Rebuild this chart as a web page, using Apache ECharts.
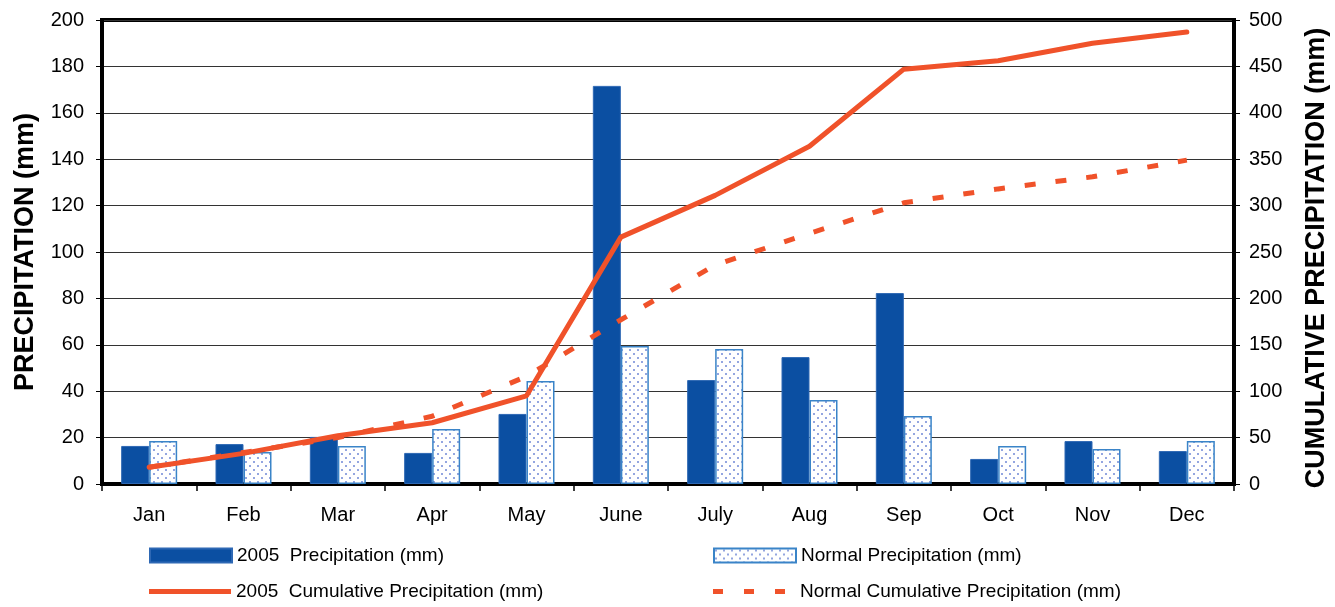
<!DOCTYPE html>
<html>
<head>
<meta charset="utf-8">
<script src="https://cdn.jsdelivr.net/npm/echarts@6/dist/echarts.min.js"></script>
<style>
html,body{margin:0;padding:0;background:#fff;}
#chart{width:1335px;height:607px;}
</style>
</head>
<body>
<div id="chart"></div>
<script>
var months = ['Jan','Feb','Mar','Apr','May','June','July','Aug','Sep','Oct','Nov','Dec'];
var precip2005 = [16.4, 17.2, 20.3, 13.4, 30.2, 171.6, 44.8, 54.7, 82.3, 10.8, 18.5, 14.2];
var precipNormal = [18.5, 13.8, 16.4, 23.7, 44.4, 59.5, 58.2, 36.2, 29.3, 16.4, 15.1, 18.5];
var cum2005 = [18, 33, 52, 66, 95, 266, 311, 364, 447, 456, 475, 487];
var cumNormal = [18, 34, 50, 73, 116, 177, 236, 270, 303, 318, 331, 349];
var leftTicks = {min: 0, max: 200, interval: 20};
var rightTicks = {min: 0, max: 500, interval: 50};

var FONT = '"Liberation Sans", Arial, sans-serif';

// dotted pattern
var pc = document.createElement('canvas');
pc.width = 8; pc.height = 8;
var g = pc.getContext('2d');
g.fillStyle = '#ffffff'; g.fillRect(0,0,8,8);
g.fillStyle = '#94a6e0';
g.fillRect(1,1,2,2);
g.fillRect(5,5,2,2);

var RED = '#f0522a';
var chart = echarts.init(document.getElementById('chart'), null, {renderer:'canvas'});
var legendBase = {orient:'horizontal', padding:0, itemWidth:82, itemHeight:15, itemGap:5,
  textStyle:{fontFamily:FONT, fontSize:19, color:'#000'}, selectedMode:false};
chart.setOption({
  animation:false,
  backgroundColor:'#fff',
  grid:{left:102, right:101, top:20, bottom:123, show:true, borderColor:'#000', borderWidth:4,
        backgroundColor:'transparent', containLabel:false, outerBoundsMode:'none'},
  legend:[
    Object.assign({}, legendBase, {left:149, top:546, icon:'rect', itemHeight:14,
      data:[{name:'2005  Precipitation (mm)', icon:'rect'}]}),
    Object.assign({}, legendBase, {left:713, top:546, icon:'rect', itemHeight:14,
      data:[{name:'Normal Precipitation (mm)', icon:'rect'}]}),
    Object.assign({}, legendBase, {left:149, top:582, itemHeight:5,
      data:[{name:'2005  Cumulative Precipitation (mm)', icon:'path://M0,0h82v5h-82z'}],
      textStyle:{fontFamily:FONT, fontSize:19, color:'#000', padding:[0,0,0,0]}}),
    Object.assign({}, legendBase, {left:713, top:582, itemHeight:5, itemWidth:72,
      data:[{name:'Normal Cumulative Precipitation (mm)', icon:'path://M0,0h10v5h-10z M31,0h10v5h-10z M62,0h10v5h-10z'}],
      textStyle:{fontFamily:FONT, fontSize:19, color:'#000', padding:[0,0,0,10]}})
  ],
  xAxis:{type:'category', data:months, boundaryGap:true,
    axisLine:{show:true, lineStyle:{color:'#000', width:4}},
    axisTick:{show:true, length:7, lineStyle:{color:'#000', width:1.5}},
    axisLabel:{fontFamily:FONT, fontSize:20, color:'#000', margin:21},
    splitLine:{show:false}},
  yAxis:[
    {type:'value', min:leftTicks.min, max:leftTicks.max, interval:leftTicks.interval, position:'left',
     name:'PRECIPITATION (mm)', nameLocation:'middle', nameGap:63, nameRotate:90,
     nameTextStyle:{fontFamily:FONT, fontSize:27, fontWeight:'bold', color:'#000'},
     axisLine:{show:true, lineStyle:{color:'#000', width:4}},
     axisTick:{show:true, length:6, lineStyle:{color:'#000', width:1}},
     axisLabel:{fontFamily:FONT, fontSize:20, color:'#000', margin:18},
     splitLine:{show:true, lineStyle:{color:'#333', width:1}}},
    {type:'value', min:rightTicks.min, max:rightTicks.max, interval:rightTicks.interval, position:'right',
     name:'CUMULATIVE PRECIPITATION (mm)', nameLocation:'middle', nameGap:69, nameRotate:90,
     nameTextStyle:{fontFamily:FONT, fontSize:27, fontWeight:'bold', color:'#000', padding:[0,12,0,0]},
     axisLine:{show:true, lineStyle:{color:'#000', width:4}},
     axisTick:{show:true, length:6, lineStyle:{color:'#000', width:1}},
     axisLabel:{fontFamily:FONT, fontSize:20, color:'#000', margin:15},
     splitLine:{show:false}}
  ],
  series:[
    {name:'2005  Precipitation (mm)', type:'bar', data:precip2005, barWidth:28, barGap:'0%',
     itemStyle:{color:'#0b4fa2', borderColor:'#2e68b4', borderWidth:1}},
    {name:'Normal Precipitation (mm)', type:'bar', data:precipNormal, barWidth:28, barGap:'0%',
     itemStyle:{color:{image:pc, repeat:'repeat'}, borderColor:'#3a84c8', borderWidth:1.5}},
    {name:'2005  Cumulative Precipitation (mm)', type:'line', yAxisIndex:1, data:cum2005,
     symbol:'none', lineStyle:{color:RED, width:5, cap:'round'}, itemStyle:{color:RED}, z:5},
    {name:'Normal Cumulative Precipitation (mm)', type:'line', yAxisIndex:1, data:cumNormal,
     symbol:'none', lineStyle:{color:RED, width:5, type:[11,20]}, itemStyle:{color:RED}, z:5}
  ]
});
</script>
</body>
</html>
